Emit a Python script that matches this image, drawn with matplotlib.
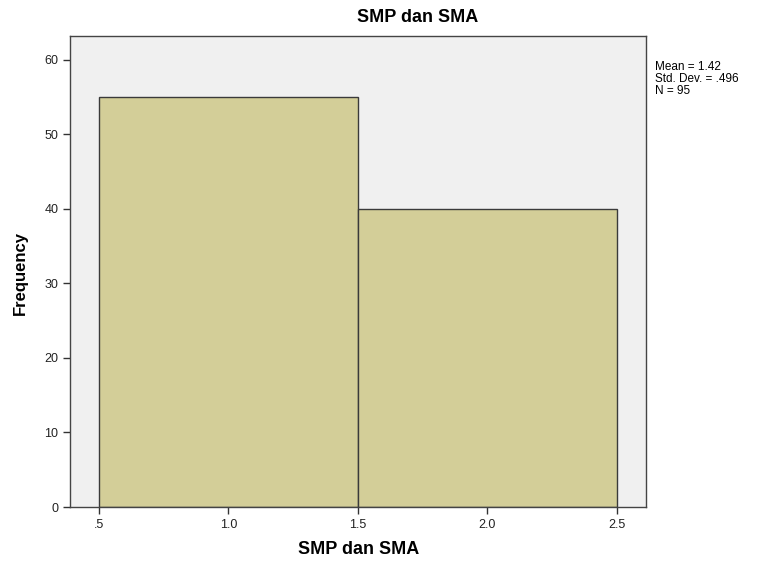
import matplotlib
matplotlib.use("Agg")
import matplotlib.pyplot as plt

plt.rcParams['font.family'] = ['Liberation Sans', 'DejaVu Sans']

bin_edges = [0.5, 1.5, 2.5]
counts = [55, 40]
xticks = [0.5, 1.0, 1.5, 2.0, 2.5]
xtick_labels = ['.5', '1.0', '1.5', '2.0', '2.5']
yticks = [0, 10, 20, 30, 40, 50, 60]
stats_text = "Mean = 1.42\nStd. Dev. = .496\nN = 95"
title = "SMP dan SMA"
xlabel = "SMP dan SMA"
ylabel = "Frequency"

fig = plt.figure(figsize=(7.66, 5.61), dpi=100)
ax = fig.add_axes([70/766, 1-507/561, (646-70)/766, (507-36)/561])
ax.set_facecolor('#F0F0F0')

lefts = bin_edges[:-1]
widths = [bin_edges[i+1]-bin_edges[i] for i in range(len(counts))]
ax.bar(lefts, counts, width=widths, align='edge', color='#D3CE98',
       edgecolor='#3a3a3a', linewidth=1.0, zorder=2)

ax.set_xlim(0.389, 2.612)
ax.set_ylim(0, 63.2)
ax.set_xticks(xticks)
ax.set_xticklabels(xtick_labels)
ax.set_yticks(yticks)
ax.tick_params(direction='out', length=5, width=1, labelsize=9, color='#333333', labelcolor='#222222')
for s in ax.spines.values():
    s.set_color('#444444')
    s.set_linewidth(1.0)

fig.text(359/766, 1-549/561, xlabel, ha='center', va='center', fontsize=13, fontweight='bold')
fig.text(20/766, 1-273/561, ylabel, ha='center', va='center', rotation=90, fontsize=12, fontweight='bold')
fig.text(418/766, 1-18/561, title, ha='center', va='center', fontsize=13, fontweight='bold')
fig.text(655/766, 1-61/561, stats_text, ha='left', va='top', fontsize=8.5, linespacing=1.0)

fig.savefig('out.png', dpi=100)
